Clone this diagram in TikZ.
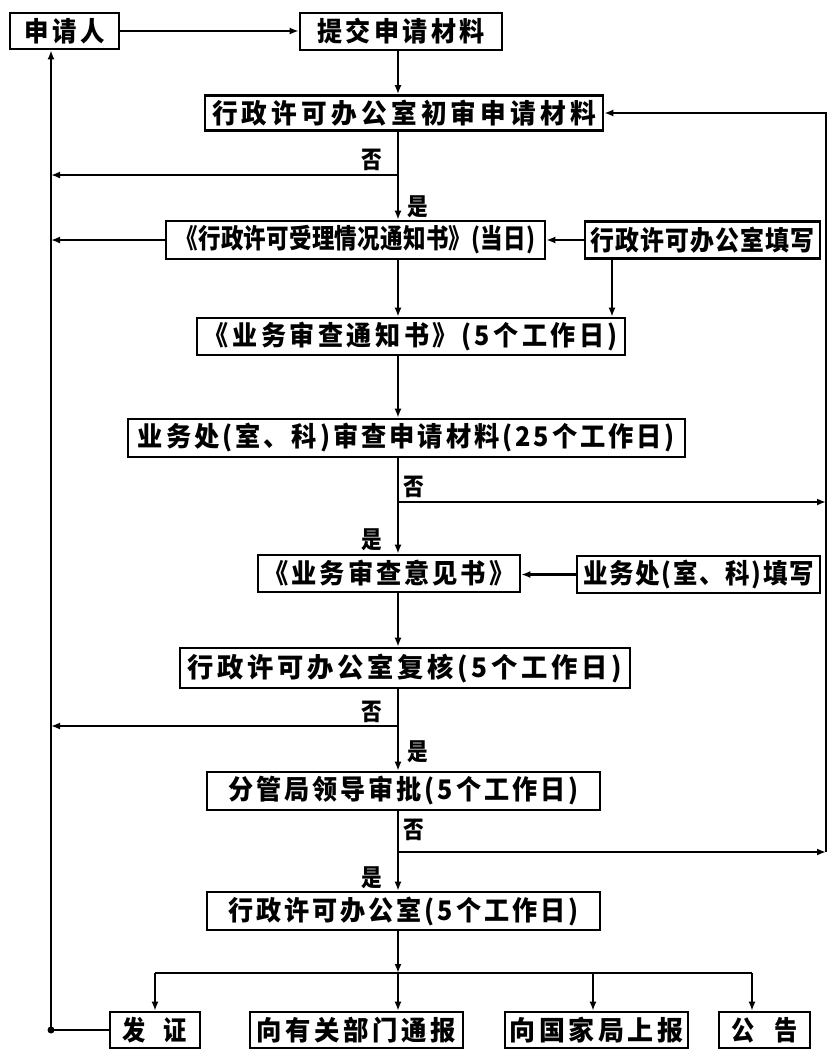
\documentclass[tikz,border=0pt]{standalone}
\usepackage{fontspec}
\usepackage{graphicx}
\usetikzlibrary{arrows.meta}
\newfontfamily\cjk[FakeStretch=0.86]{Noto Sans CJK SC}
\newcommand\ls[1]{\addfontfeatures{LetterSpace=#1}}
\newcommand\fit[3]{\resizebox{#1pt}{\height}{\ls{#2}#3}}
\begin{document}
\begin{tikzpicture}[x=1pt,y=-1pt,
  box/.style={draw, line width=2.6pt, inner sep=0pt, align=center,
    font=\cjk\bfseries\fontsize{27}{30}\selectfont},
  ln/.style={line width=2.6pt},
  arr/.style={ln, -{Latex[length=9pt,width=7pt]}},
  lab/.style={inner sep=0pt, font=\cjk\bfseries\fontsize{24}{26}\selectfont}]
\useasboundingbox (0,0) rectangle (829,1050);
\coordinate (M) at (398,0);
\coordinate (L) at (51,0);
\coordinate (R) at (826,0);
\coordinate (T) at (612,0);
% boxes
\node[box, minimum width=109, minimum height=36] (sq) at (64.5,31) {\fit{80}{12}{申请人}};
\node[box, minimum width=202, minimum height=37] (tj) at (401,31.5) {\fit{168}{12}{提交申请材料}};
\node[box, minimum width=398, minimum height=35] (cs) at (404,113) {\fit{384}{14}{行政许可办公室初审申请材料}};
\node[box, minimum width=379, minimum height=38] (tz1) at (355.5,240) {\fit{360}{1}{《行政许可受理情况通知书》(当日)}};
\node[box, minimum width=235, minimum height=37] (tx1) at (702.5,240) {\fit{224}{4}{行政许可办公室填写}};
\node[box, minimum width=428, minimum height=37] (tz2) at (411,336.5) {\fit{414}{12}{《业务审查通知书》(5个工作日)}};
\node[box, minimum width=557, minimum height=38] (sc) at (406.5,438) {\fit{537}{10}{业务处(室、科)审查申请材料(25个工作日)}};
\node[box, minimum width=262, minimum height=37] (yj) at (389,573.5) {\fit{251}{10}{《业务审查意见书》}};
\node[box, minimum width=243, minimum height=37] (tx2) at (698.5,574.5) {\fit{231}{6}{业务处(室、科)填写}};
\node[box, minimum width=450, minimum height=40] (fh) at (405,668) {\fit{434}{12}{行政许可办公室复核(5个工作日)}};
\node[box, minimum width=393, minimum height=38] (sp) at (403.5,791) {\fit{350}{10}{分管局领导审批(5个工作日)}};
\node[box, minimum width=393, minimum height=38] (bg) at (403.5,911) {\fit{350}{10}{行政许可办公室(5个工作日)}};
\node[box, minimum width=90, minimum height=36] (fz) at (155,1030) {发\hspace{18pt}证};
\node[box, minimum width=213, minimum height=36] (tb) at (356.5,1030) {\fit{199}{12}{向有关部门通报}};
\node[box, minimum width=183, minimum height=36] (sb) at (596.5,1030) {\fit{174}{12}{向国家局上报}};
\node[box, minimum width=91, minimum height=36] (gg) at (764.5,1030) {公\hspace{20pt}告};
% branch points
\coordinate (b1) at (398,175);
\coordinate (b2) at (398,502);
\coordinate (b3) at (398,726);
\coordinate (b4) at (398,852);
\coordinate (bus) at (398,973);
% connectors
\draw[arr] (sq.east) -- (sq.east -| tj.west);
\draw[arr] (tj.south -| M) -- (cs.north -| M);
\draw[arr] (cs.south -| M) -- (tz1.north -| M);
\draw[arr] (b1) -- (b1 -| L);
\draw[arr] (tz1.west) -- (tz1.west -| L);
\draw[arr] (tx1.west) -- (tx1.west -| tz1.east);
\draw[arr] (tx1.south -| T) -- (tz2.north -| T);
\draw[arr] (tz1.south -| M) -- (tz2.north -| M);
\draw[arr] (tz2.south -| M) -- (sc.north -| M);
\draw[arr] (sc.south -| M) -- (yj.north -| M);
\draw[arr] (b2) -- (b2 -| R);
\draw[arr] (tx2.west) -- (tx2.west -| yj.east);
\draw[arr] (yj.south -| M) -- (fh.north -| M);
\draw[arr] (fh.south -| M) -- (sp.north -| M);
\draw[arr] (b3) -- (b3 -| L);
\draw[arr] (sp.south -| M) -- (bg.north -| M);
\draw[arr] (b4) -- (b4 -| R);
\draw[arr] (b4 -| R) -- (cs.east -| R) -- (cs.east);
\draw[arr] (bg.south -| M) -- (bus);
\draw[ln] (bus -| fz.north) -- (752,973);
\draw[arr] (bus -| fz.north) -- (fz.north);
\draw[arr] (bus) -- (tb.north -| M);
\draw[arr] (593,973) -- (593,1029 |- sb.north);
\draw[arr] (752,973) -- (752,1029 |- gg.north);
\draw[arr] (fz.west) -- (fz.west -| L) -- (sq.south -| L);
\fill (fz.west -| L) circle (3.5);
% labels
\node[lab] (n1) at (372,160) {否};
\node[lab] (y1) at (418,207) {是};
\node[lab] (n2) at (414,487) {否};
\node[lab] (y2) at (372,540) {是};
\node[lab] (n3) at (372,712) {否};
\node[lab] (y3) at (418,752) {是};
\node[lab] (n4) at (414,830) {否};
\node[lab] (y4) at (372,878) {是};
\end{tikzpicture}
\end{document}
